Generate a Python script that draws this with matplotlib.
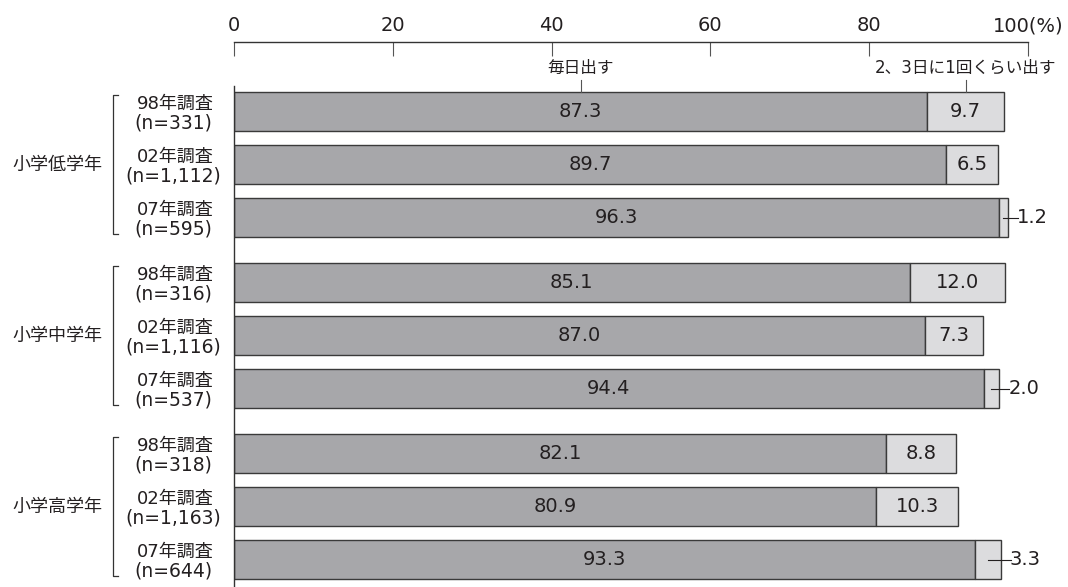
import matplotlib
matplotlib.use("Agg")
import matplotlib.pyplot as plt

plt.rcParams['font.family'] = ['DejaVu Sans', 'Noto Sans CJK JP']

groups = ["小学低学年", "小学中学年", "小学高学年"]
surveys = ["98年調査", "02年調査", "07年調査"]
ns = [["331", "1,112", "595"],
      ["316", "1,116", "537"],
      ["318", "1,163", "644"]]
daily = [[87.3, 89.7, 96.3],
         [85.1, 87.0, 94.4],
         [82.1, 80.9, 93.3]]
every23 = [[9.7, 6.5, 1.2],
           [12.0, 7.3, 2.0],
           [8.8, 10.3, 3.3]]
xticks = [0, 20, 40, 60, 80, 100]
xticklabels = ["0", "20", "40", "60", "80", "100(%)"]
series_names = ["毎日出す", "2、3日に1回くらい出す"]

W, H = 1068, 587
fig = plt.figure(figsize=(W / 100, H / 100), dpi=100)
ax_left_px, ax_right_px = 234, 1028
ax_top_px = 42
unit = 53.0
first_center_px = 111.5
ax = fig.add_axes([ax_left_px / W, 0, (ax_right_px - ax_left_px) / W, (H - ax_top_px) / H])
ytop = -(first_center_px - ax_top_px) / unit
ybot = (H - first_center_px) / unit
ax.set_xlim(0, 100)
ax.set_ylim(ybot, ytop)

dark = "#a7a7aa"
light = "#dcdcde"
edge = "#3a3a3a"
txt = "#231f20"
bh = 39 / unit
gpitch = 171 / unit
numfs = 14

for g in range(3):
    for i in range(3):
        y = g * gpitch + i
        d = daily[g][i]
        e = every23[g][i]
        ax.barh(y, d, height=bh, color=dark, edgecolor=edge, linewidth=1.0)
        ax.barh(y, e, left=d, height=bh, color=light, edgecolor=edge, linewidth=1.0)
        ax.text(d / 2, y, f"{d:.1f}", ha="center", va="center", fontsize=numfs, color=txt)
        if e >= 5:
            ax.text(d + e / 2, y, f"{e:.1f}", ha="center", va="center", fontsize=numfs, color=txt)
        else:
            xe = d + e / 2
            ax.plot([xe, d + e + 1.2], [y, y], color=txt, linewidth=0.8)
            ax.text(d + e + 1.1, y, f"{e:.1f}", ha="left", va="center", fontsize=numfs, color=txt)

# series annotations
y0 = 0 - bh / 2
ly = (80 - first_center_px) / unit
lab_y = (68 - first_center_px) / unit
x1 = daily[0][0] / 2
x2 = daily[0][0] + every23[0][0] / 2
ax.plot([x1, x1], [y0, ly], color="#555555", linewidth=0.8)
ax.plot([x2, x2], [y0, ly], color="#555555", linewidth=0.8)
ax.text(x1, lab_y, series_names[0], ha="center", va="center", fontsize=12, color=txt)
ax.text(x2, lab_y, series_names[1], ha="center", va="center", fontsize=12, color=txt)

# axes styling
ax.xaxis.tick_top()
ax.set_xticks(xticks)
ax.set_xticklabels(xticklabels, fontsize=14, color=txt)
ax.tick_params(axis="x", direction="in", length=10, width=0.8, color="#555555", pad=5)
ax.set_yticks([])
for s in ["right", "bottom"]:
    ax.spines[s].set_visible(False)
ax.spines["top"].set_linewidth(1.0)
ax.spines["top"].set_color("#333333")
ax.spines["left"].set_color("#333333")
ax.spines["left"].set_linewidth(1.0)
ax.spines["left"].set_bounds((86 - first_center_px) / unit, ybot)

# left labels
trans = ax.get_yaxis_transform()
def fx(px):
    return (px - ax_left_px) / (ax_right_px - ax_left_px)

for g in range(3):
    yc = g * gpitch + 1
    ax.text(fx(57), yc, groups[g], transform=trans, ha="center", va="center", fontsize=13, color=txt)
    ytop_b = g * gpitch - bh / 2 + 0.05
    ybot_b = g * gpitch + 2 + bh / 2 - 0.05
    ax.plot([fx(118), fx(113), fx(113), fx(118)], [ytop_b, ytop_b, ybot_b, ybot_b],
            transform=trans, color="#333333", linewidth=0.9, clip_on=False)
    for i in range(3):
        y = g * gpitch + i
        ax.text(fx(175), y - 0.14, surveys[i], transform=trans, ha="center", va="center",
                fontsize=13, color=txt)
        ax.text(fx(173), y + 0.22, f"(n={ns[g][i]})", transform=trans, ha="center", va="center",
                fontsize=13.5, color=txt)

fig.savefig("out.png", dpi=100)
